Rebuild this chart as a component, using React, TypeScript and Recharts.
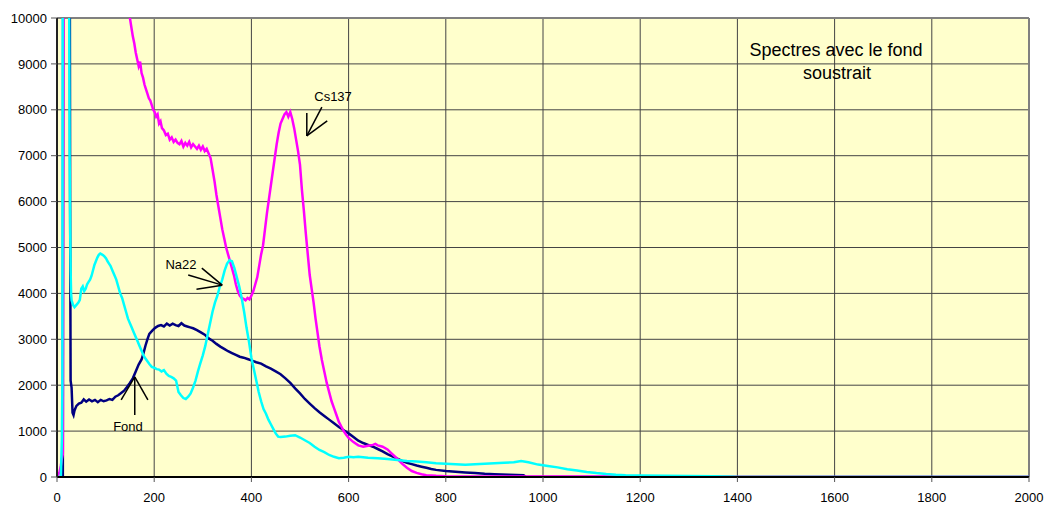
import React from 'react';
import { LineChart, Line, XAxis, YAxis, CartesianGrid, ReferenceLine, ReferenceDot } from 'recharts';

const xTicks = [0, 200, 400, 600, 800, 1000, 1200, 1400, 1600, 1800, 2000];
const yTicks = [0, 1000, 2000, 3000, 4000, 5000, 6000, 7000, 8000, 9000, 10000];

// Fond (background spectrum, navy)
const fondCh = [0,12,13,26,27,28,30,32,34,36,40,45,50,55,60,66,72,78,84,90,96,102,108,114,120,126,132,138,144,150,156,162,168,174,178,182,186,190,196,202,208,214,220,226,232,238,244,250,256,262,268,274,280,288,296,304,312,320,328,336,344,352,360,368,376,384,392,400,410,420,430,440,450,460,470,480,490,500,510,520,530,540,550,560,570,580,590,600,610,620,630,640,650,660,670,680,690,700,710,720,730,740,750,760,770,780,800,820,840,860,880,900,930,960,965,2000];
const fondVal = [0,0,14000,14000,6000,2100,1950,1400,1350,1450,1550,1600,1620,1690,1640,1690,1650,1680,1630,1680,1650,1670,1700,1680,1750,1780,1830,1880,1960,2050,2150,2300,2450,2560,2700,2860,3000,3120,3190,3250,3290,3310,3280,3340,3300,3340,3310,3290,3350,3300,3280,3260,3240,3200,3150,3100,3020,2970,2900,2840,2790,2740,2700,2660,2620,2600,2570,2540,2500,2470,2410,2360,2300,2240,2150,2050,1930,1820,1700,1600,1500,1410,1330,1250,1170,1090,1020,950,870,790,740,700,660,610,560,500,450,400,350,310,280,250,225,200,175,155,130,115,100,85,70,60,50,40,0,0];

// Na22 (cyan)
const naCh = [0,8,10,11,12,24,26,27,28,29,30,33,36,40,44,47,50,53,56,59,62,65,68,71,74,77,80,83,86,89,92,95,98,101,104,107,110,114,118,122,126,130,134,138,142,146,150,154,158,162,166,170,174,178,182,186,190,195,200,205,210,215,220,225,230,235,240,245,250,255,260,265,270,275,280,285,290,295,300,305,310,315,320,325,330,335,340,345,350,355,360,365,370,375,380,385,390,395,400,405,410,415,420,425,430,435,440,445,450,455,460,470,480,490,500,510,520,530,540,550,560,570,580,590,600,610,620,640,660,680,700,720,740,760,780,800,820,840,860,880,900,920,940,955,970,990,1010,1030,1050,1070,1090,1110,1130,1150,1170,1200,1250,1300,1350,1390,1400,2000];
const naVal = [0,0,800,2000,14000,14000,7000,5500,4500,4000,3850,3750,3700,3750,3800,3860,4100,4150,4050,4100,4200,4250,4300,4380,4500,4620,4700,4780,4840,4870,4850,4830,4800,4760,4700,4650,4600,4500,4400,4300,4150,4000,3900,3750,3600,3450,3350,3250,3150,3050,2950,2850,2750,2650,2580,2520,2460,2400,2380,2350,2340,2300,2330,2250,2200,2180,2150,2100,1850,1780,1720,1700,1750,1820,1950,2100,2300,2480,2650,2850,3100,3350,3600,3800,3950,4150,4300,4500,4650,4720,4700,4550,4350,4150,3900,3600,3250,2950,2600,2350,2100,1850,1650,1480,1380,1250,1150,1050,950,880,870,880,900,910,860,800,740,660,590,540,480,440,410,420,440,430,440,420,410,390,370,350,340,320,300,290,280,265,280,290,300,310,320,350,320,270,240,210,170,140,110,85,65,50,40,35,28,22,15,8,0,0];

// Cs137 (magenta)
const csCh = [0,5,8,10,12,14,148,150,153,156,159,162,165,168,171,174,177,180,183,186,189,192,195,198,201,204,207,210,213,216,220,224,228,232,236,240,244,248,252,256,260,264,268,272,276,280,284,288,292,296,300,304,308,312,316,320,324,328,332,336,340,344,348,352,356,360,364,368,372,376,380,384,388,392,396,400,404,408,412,416,420,424,428,432,436,440,444,448,452,456,460,464,468,472,476,480,484,488,492,496,500,504,508,512,516,520,524,528,532,536,540,545,550,555,560,565,570,575,580,585,590,595,600,610,620,630,640,650,655,660,670,680,690,700,710,720,730,740,750,760,780,800,850,1000,1200,1400,2000];
const csVal = [0,100,250,400,500,14000,14000,10000,9800,9600,9450,9250,9100,8950,9050,8800,8700,8550,8450,8350,8250,8200,8100,8000,7950,7850,7900,7700,7750,7600,7550,7450,7480,7350,7400,7300,7350,7280,7250,7320,7200,7280,7220,7300,7180,7250,7200,7150,7220,7130,7200,7100,7150,7050,6950,6700,6450,6150,5900,5650,5400,5200,5000,4850,4700,4550,4400,4200,4050,3950,3900,3880,3850,3900,3870,3950,4050,4200,4350,4600,4850,5050,5400,5750,6050,6350,6650,6950,7250,7500,7700,7800,7900,7950,7850,7950,7800,7600,7350,7100,6800,6250,5800,5300,4850,4400,4100,3800,3450,3150,2850,2550,2300,2050,1850,1650,1500,1350,1200,1100,1000,920,850,760,690,660,680,700,720,690,660,600,500,400,290,200,130,90,60,40,25,15,10,10,10,0,0];

const toPoints = (ch: number[], val: number[]) => ch.map((x, i) => ({ x, y: val[i] }));
const fondData = toPoints(fondCh, fondVal);
const naData = toPoints(naCh, naVal);
const csData = toPoints(csCh, csVal);

const FONT = 'Liberation Sans, Arial, sans-serif';

const textShape = (txt: string, size: number) => (props: any) => (
  <text x={props.cx} y={props.cy} textAnchor="middle" dominantBaseline="central" fontSize={size} fontFamily={FONT} fill="#000">{txt}</text>
);

const arrowStyle = { stroke: '#000', strokeWidth: 1.5 };

export default function App() {
  return (
    <div style={{ position: 'absolute', left: 0, top: 0, width: 1045, height: 506, background: '#fff' }}>
      <LineChart width={1045} height={506} margin={{ top: 18, right: 16, bottom: 0, left: 0 }}>
        <CartesianGrid fill="#FFFFCC" stroke="#444" strokeWidth={1} horizontalValues={yTicks} verticalValues={xTicks} />
        <XAxis type="number" dataKey="x" domain={[0, 2000]} ticks={xTicks} allowDataOverflow height={29}
          tick={{ fontSize: 13, fill: '#000', fontFamily: FONT }} tickSize={5} tickMargin={11}
          axisLine={{ stroke: '#000', strokeWidth: 2 }} tickLine={{ stroke: '#555' }} />
        <YAxis type="number" domain={[0, 10000]} ticks={yTicks} allowDataOverflow width={57}
          tick={{ fontSize: 13, fill: '#000', fontFamily: FONT }} tickSize={6} tickMargin={4}
          axisLine={{ stroke: '#222', strokeWidth: 2 }} tickLine={{ stroke: '#555' }} />
        <ReferenceLine y={10000} stroke="#808080" strokeWidth={2} />
        <ReferenceLine x={2000} stroke="#808080" strokeWidth={2} />
        <Line data={fondData} dataKey="y" stroke="#000080" strokeWidth={2.5} dot={false} isAnimationActive={false} />
        <Line data={csData} dataKey="y" stroke="#FF00FF" strokeWidth={2.5} dot={false} isAnimationActive={false} />
        <Line data={naData} dataKey="y" stroke="#00FFFF" strokeWidth={2.5} dot={false} isAnimationActive={false} />

        <ReferenceLine segment={[{ x: 545, y: 8060 }, { x: 514, y: 7430 }]} {...arrowStyle} />
        <ReferenceLine segment={[{ x: 514, y: 7930 }, { x: 514, y: 7430 }]} {...arrowStyle} />
        <ReferenceLine segment={[{ x: 556, y: 7760 }, { x: 514, y: 7430 }]} {...arrowStyle} />

        <ReferenceLine segment={[{ x: 298, y: 4550 }, { x: 340, y: 4180 }]} {...arrowStyle} />
        <ReferenceLine segment={[{ x: 270, y: 4400 }, { x: 340, y: 4180 }]} {...arrowStyle} />
        <ReferenceLine segment={[{ x: 287, y: 4090 }, { x: 340, y: 4180 }]} {...arrowStyle} />

        <ReferenceLine segment={[{ x: 160, y: 1350 }, { x: 160, y: 2180 }]} {...arrowStyle} />
        <ReferenceLine segment={[{ x: 132, y: 1680 }, { x: 160, y: 2180 }]} {...arrowStyle} />
        <ReferenceLine segment={[{ x: 187, y: 1680 }, { x: 160, y: 2180 }]} {...arrowStyle} />

        <ReferenceDot x={568} y={8280} r={0} shape={textShape('Cs137', 13)} />
        <ReferenceDot x={255} y={4640} r={0} shape={textShape('Na22', 13)} />
        <ReferenceDot x={146} y={1090} r={0} shape={textShape('Fond', 13)} />
        <ReferenceDot x={1603} y={9300} r={0} shape={textShape('Spectres avec le fond', 18)} />
        <ReferenceDot x={1605} y={8800} r={0} shape={textShape('soustrait', 18)} />
      </LineChart>
    </div>
  );
}
